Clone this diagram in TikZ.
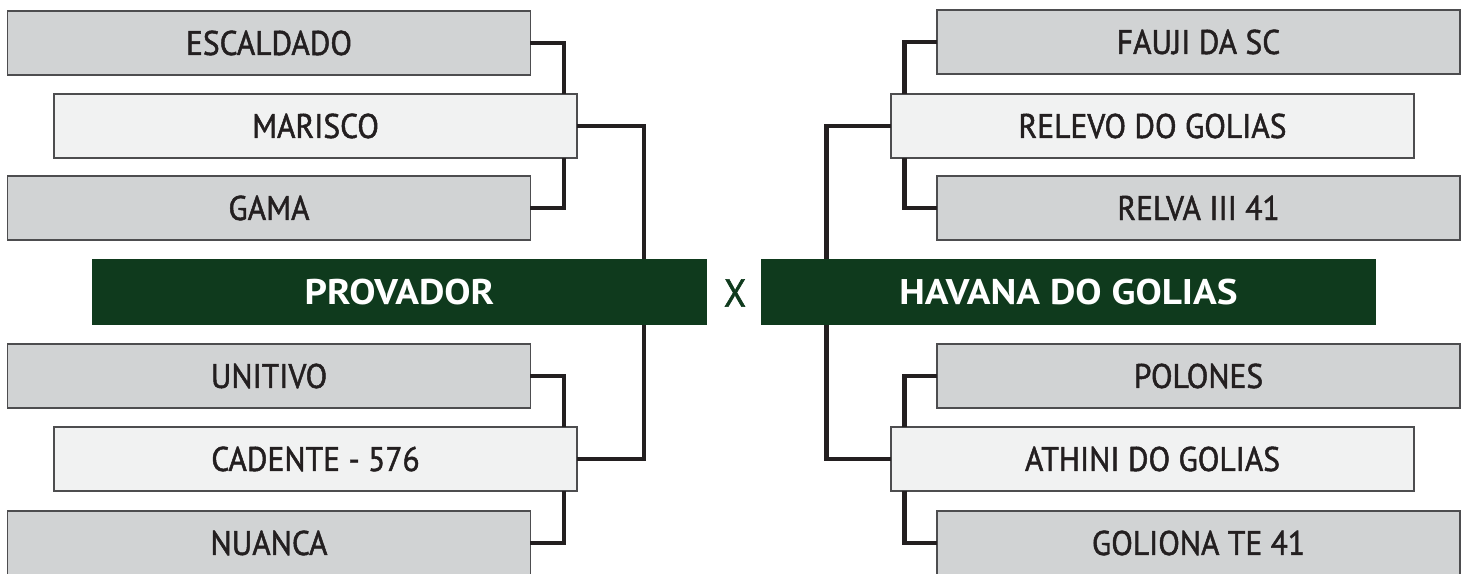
\documentclass[tikz,border=0pt]{standalone}
\usepackage{fontspec}
\setmainfont{PT Sans}
\newfontfamily\horsefont{PT Sans}[FakeStretch=0.92,FakeBold=1.4]
\newfontfamily\finalfont{PT Sans Bold}[FakeStretch=1.1]
\usepackage{tikz}
\definecolor{BRGray}{HTML}{D1D3D4}
\definecolor{BRLight}{HTML}{F1F2F2}
\definecolor{BRGreen}{HTML}{0F3A1D}
\definecolor{BREdge}{HTML}{4D4D4F}
\definecolor{BRInk}{HTML}{231F20}
\begin{document}
\begin{tikzpicture}[x=0.02cm,y=-0.02cm,
  horse/.style={draw=BREdge,line width=0.8pt,inner sep=0pt,outer sep=0pt,
    minimum width=10.46cm,minimum height=1.28cm,text=BRInk,font=\horsefont\fontsize{19.5}{19.5}\selectfont},
  heat/.style={horse,fill=BRGray},
  winner/.style={horse,fill=BRLight},
  final/.style={fill=BRGreen,inner sep=0pt,outer sep=0pt,minimum width=12.3cm,
    minimum height=1.32cm,text=white,font=\finalfont\fontsize{20.3}{20.3}\selectfont},
  bracket/.style={draw=BRInk,line width=2.8pt,line join=miter}]
\path[use as bounding box] (0,0) rectangle (1469,574);
% left bracket
\node[heat] (esc) at (269,43) {ESCALDADO};
\node[winner] (mar) at (315.5,126) {MARISCO};
\node[heat] (gam) at (269,208) {GAMA};
\node[heat] (uni) at (269,376) {UNITIVO};
\node[winner] (cad) at (315.5,459) {CADENTE - 576};
\node[heat] (nua) at (269,543) {NUANCA};
\node[final] (prov) at (399.5,292) {PROVADOR};
% right bracket
\node[heat] (fau) at (1198.5,42) {FAUJI DA SC};
\node[winner] (rel) at (1152.5,126) {RELEVO DO GOLIAS};
\node[heat] (rlv) at (1198.5,208) {RELVA III 41};
\node[heat] (pol) at (1198.5,376) {POLONES};
\node[winner] (ath) at (1152.5,459) {ATHINI DO GOLIAS};
\node[heat] (gol) at (1198.5,543) {GOLIONA TE 41};
\node[final] (hav) at (1068.5,292) {HAVANA DO GOLIAS};
\node[text=BRGreen,font=\horsefont\fontsize{22}{22}\selectfont] (vs) at (735,293) {X};
% connectors
\draw[bracket] (esc.east) -| ([xshift=-0.26cm]mar.north east);
\draw[bracket] ([xshift=-0.26cm]mar.south east) |- (gam.east);
\draw[bracket] (uni.east) -| ([xshift=-0.26cm]cad.north east);
\draw[bracket] ([xshift=-0.26cm]cad.south east) |- (nua.east);
\draw[bracket] (mar.east) -| ([xshift=-1.26cm]prov.north east);
\draw[bracket] ([xshift=-1.26cm]prov.south east) |- (cad.east);
\draw[bracket] (fau.west) -| ([xshift=0.26cm]rel.north west);
\draw[bracket] ([xshift=0.26cm]rel.south west) |- (rlv.west);
\draw[bracket] (pol.west) -| ([xshift=0.26cm]ath.north west);
\draw[bracket] ([xshift=0.26cm]ath.south west) |- (gol.west);
\draw[bracket] (rel.west) -| ([xshift=1.3cm]hav.north west);
\draw[bracket] ([xshift=1.3cm]hav.south west) |- (ath.west);
\end{tikzpicture}
\end{document}
